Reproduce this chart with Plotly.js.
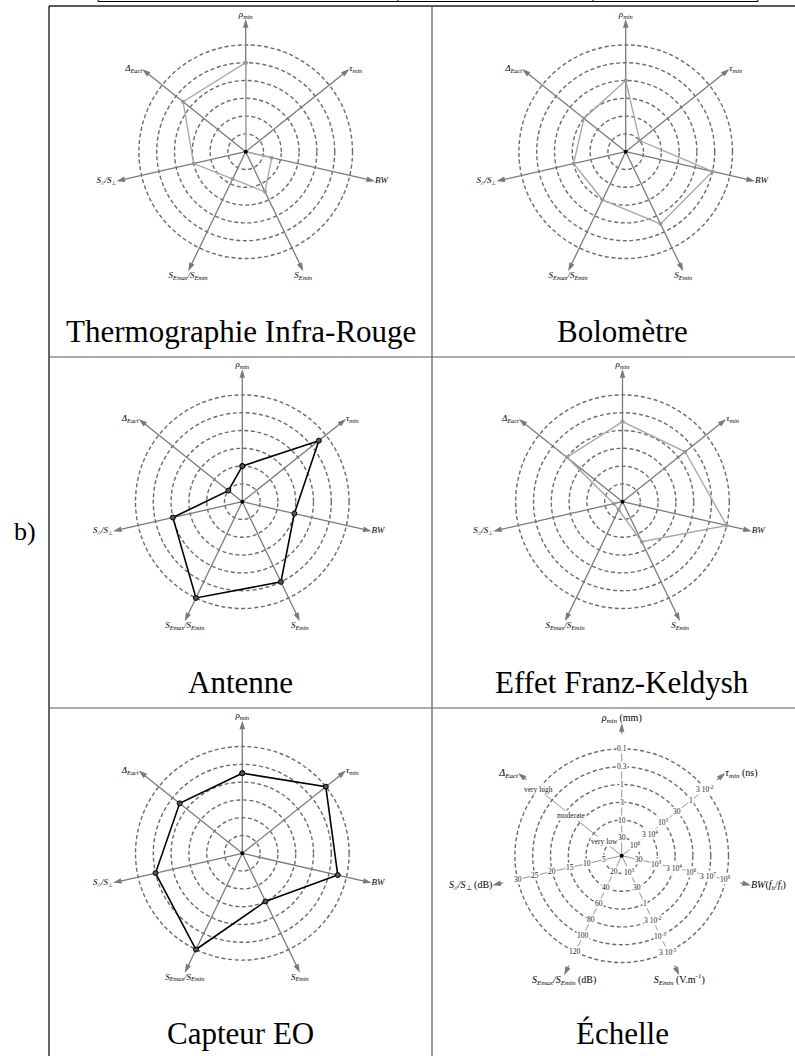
<!DOCTYPE html>
<html><head><meta charset="utf-8">
<script src="https://cdn.plot.ly/plotly-3.0.1.min.js"></script>
<style>body{margin:0;background:#fff}#chart{width:795px;height:1056px}</style>
</head><body><div id="chart"></div>
<script>
// ---------- data ----------
const axes = ['rho', 'tau', 'BW', 'SEmin', 'SEratio', 'Spar', 'Delta'];
const axisLabels = ['<i>ρ<sub>min</sub></i>', '<i>τ<sub>min</sub></i>', '<i>BW</i>', '<i>S<sub>Emin</sub></i>',
  '<i>S<sub>Emax</sub>/S<sub>Emin</sub></i>', '<i>S<sub>//</sub>/S</i><sub>⊥</sub>', '<i>Δ<sub>Eact</sub></i>'];
const scaleAxisLabels = ['<i>ρ<sub>min</sub></i> (mm)', '<i>τ<sub>min</sub></i> (ns)', '<i>BW</i>(<i>f<sub>h</sub></i>/<i>f<sub>l</sub></i>)',
  '<i>S<sub>Emin</sub></i> (V.m<sup>-1</sup>)', '<i>S<sub>Emax</sub>/S<sub>Emin</sub></i> (dB)', '<i>S<sub>//</sub>/S</i><sub>⊥</sub> (dB)', '<i>Δ<sub>Eact</sub></i>'];
const panelTitles = ['Thermographie Infra-Rouge', 'Bolomètre', 'Antenne', 'Effet Franz-Keldysh', 'Capteur EO', 'Échelle'];

const thermoIR     = [5.0, 0.0, 1.5, 2.5, 1.7, 3.0, 4.5];
const bolometre    = [4.0, 1.0, 5.0, 4.5, 3.0, 3.0, 3.0];
const antenne      = [2.0, 5.5, 3.0, 5.0, 6.0, 4.0, 1.0];
const franzKeldysh = [4.5, 4.5, 6.0, 2.5, 0.5, 0.5, 4.0];
const capteurEO    = [4.5, 6.0, 5.5, 3.0, 6.0, 5.0, 4.5];

const ringLevels = [1, 2, 3, 4, 5, 6];
const rhoTicks     = ['30', '10', '3', '1', '0.3', '0.1'];
const tauTicks     = ['10<sup>6</sup>', '3 10<sup>4</sup>', '10<sup>3</sup>', '30', '1', '3 10<sup>-2</sup>'];
const bwTicks      = ['30', '10<sup>3</sup>', '3 10<sup>4</sup>', '10<sup>6</sup>', '3 10<sup>7</sup>', '10<sup>9</sup>'];
const sEminTicks   = ['10<sup>3</sup>', '30', '1', '3 10<sup>-2</sup>', '10<sup>-3</sup>', '3 10<sup>-5</sup>'];
const sEratioTicks = ['20', '40', '60', '80', '100', '120'];
const sParTicks    = ['5', '10', '15', '20', '25', '30'];
const deltaTicks      = ['very low', 'moderate', 'very high'];
const deltaTickLevels = [1.25, 3.6, 6];

// ---------- layout helpers ----------
const W = 795, H = 1056, UNIT = 17.8, RMAX = 7.5;
const R = RMAX * UNIT;
const centers = [[245.7, 151.7], [625.7, 151.7], [242.3, 501.7], [622.5, 501.7], [242.3, 853.3], [621.7, 855.7]];
const panelData = [
  {v: thermoIR, dark: false}, {v: bolometre, dark: false}, {v: antenne, dark: true},
  {v: franzKeldysh, dark: false}, {v: capteurEO, dark: true}, null
];
const SERIF = '"Liberation Serif", "Times New Roman", serif';
const GREY = '#7a7a7a';
const textPos = ['top center', 'middle right', 'middle right', 'bottom center', 'bottom center', 'middle left', 'middle left'];
const arrowAngles = axes.map((_, i) => i * 360 / axes.length);

function dom(c) {
  return {x: [(c[0] - R) / W, (c[0] + R) / W], y: [1 - (c[1] + R) / H, 1 - (c[1] - R) / H]};
}

const traces = [];
const layout = {
  width: W, height: H, margin: {l: 0, r: 0, t: 0, b: 0},
  font: {family: SERIF, color: '#000'},
  paper_bgcolor: '#fff', plot_bgcolor: 'rgba(0,0,0,0)', showlegend: false,
  annotations: [], shapes: []
};

centers.forEach((c, k) => {
  const pid = k === 0 ? 'polar' : 'polar' + (k + 1);
  const isScale = k === 5;
  layout[pid] = {
    domain: dom(c), bgcolor: 'rgba(0,0,0,0)',
    radialaxis: {range: [0, RMAX], tickvals: ringLevels, showticklabels: false, ticks: '', showline: false,
      gridcolor: '#6b6b6b', gridwidth: 1.4, griddash: '4px,2.6px'},
    angularaxis: {type: 'category', categoryarray: axes, rotation: 90, direction: 'clockwise',
      showgrid: false, showline: false, showticklabels: false, ticks: ''}
  };
  // spokes
  const sr = [], st = [];
  axes.forEach(a => { sr.push(0, isScale ? 6 : 7.2, null); st.push(a, a, a); });
  traces.push({type: 'scatterpolar', subplot: pid, r: sr, theta: st, mode: 'lines', connectgaps: false,
    line: {color: GREY, width: isScale ? 0.8 : 1.3}, hoverinfo: 'skip'});
  if (isScale) {
    const ar = [], at = [];
    axes.forEach(a => { ar.push(6.85, 7.3, null); at.push(a, a, a); });
    traces.push({type: 'scatterpolar', subplot: pid, r: ar, theta: at, mode: 'lines', connectgaps: false,
      line: {color: GREY, width: 1.3}, hoverinfo: 'skip'});
  }
  // arrowheads
  traces.push({type: 'scatterpolar', subplot: pid, r: axes.map(() => 7.45), theta: axes, mode: 'markers',
    marker: {symbol: 'arrow', size: 9, angle: arrowAngles, color: GREY, line: {width: 0}}, hoverinfo: 'skip'});
  // data polygon
  const pd = panelData[k];
  if (pd) {
    traces.push({type: 'scatterpolar', subplot: pid, r: pd.v.concat([pd.v[0]]), theta: axes.concat([axes[0]]),
      mode: 'lines+markers',
      line: {color: pd.dark ? '#000' : '#a8a8a8', width: pd.dark ? 1.6 : 1.4},
      marker: pd.dark ? {size: 5, color: '#555', line: {color: '#000', width: 1}} : {size: 4, color: '#999'},
      hoverinfo: 'skip'});
  }
  // centre dot
  traces.push({type: 'scatterpolar', subplot: pid, r: [0], theta: [axes[0]], mode: 'markers',
    marker: {size: 4, color: '#000'}, hoverinfo: 'skip'});
  // axis labels
  traces.push({type: 'scatterpolar', subplot: pid, r: axes.map(() => 7.45), theta: axes, mode: 'text',
    text: isScale ? scaleAxisLabels : axisLabels, textposition: textPos,
    textfont: {family: SERIF, size: isScale ? 10 : 9, color: '#000'}, hoverinfo: 'skip'});
  // captions
  const cellCx = c[0] < 432 ? 240.5 : 622;
  const rowTop = [6, 357, 708][Math.floor(k / 2)];
  layout.annotations.push({xref: 'paper', yref: 'paper', x: cellCx / W, y: 1 - (rowTop + 325) / H,
    xanchor: 'center', yanchor: 'middle', showarrow: false, text: panelTitles[k],
    font: {family: SERIF, size: 31, color: '#000'}});
});

// scale panel tick labels through a matching cartesian overlay
const sc = centers[5];
const sd = dom(sc);
layout.xaxis = {domain: sd.x, range: [-RMAX, RMAX], visible: false, fixedrange: true};
layout.yaxis = {domain: sd.y, range: [-RMAX, RMAX], visible: false, fixedrange: true};
traces.push({type: 'scatter', x: [0], y: [0], mode: 'markers', marker: {opacity: 0}, hoverinfo: 'skip'});
const tickSets = [rhoTicks, tauTicks, bwTicks, sEminTicks, sEratioTicks, sParTicks];
function ang(i) { return (90 - i * 360 / axes.length) * Math.PI / 180; }
tickSets.forEach((ts, i) => {
  ts.forEach((t, j) => {
    const r = ringLevels[j];
    layout.annotations.push({xref: 'x', yref: 'y', x: r * Math.cos(ang(i)), y: r * Math.sin(ang(i)),
      xanchor: 'center', yanchor: 'middle',
      text: t, showarrow: false, bgcolor: '#fff', borderpad: 0,
      font: {family: SERIF, size: 7.5, color: '#222'}});
  });
});
deltaTicks.forEach((t, j) => {
  const r = deltaTickLevels[j], i = 6;
  layout.annotations.push({xref: 'x', yref: 'y', x: r * Math.cos(ang(i)), y: r * Math.sin(ang(i)),
    xanchor: 'center', yanchor: 'middle',
    text: t, showarrow: false, bgcolor: '#fff', borderpad: 0,
    font: {family: SERIF, size: 7.5, color: '#222'}});
});

// "b)" label
layout.annotations.push({xref: 'paper', yref: 'paper', x: 25 / W, y: 1 - 531 / H, xanchor: 'center', yanchor: 'middle',
  showarrow: false, text: 'b)', font: {family: SERIF, size: 26, color: '#000'}});

// table rules
function hline(y, x0, x1, color, w) {
  layout.shapes.push({type: 'line', xref: 'paper', yref: 'paper', x0: x0 / W, x1: x1 / W, y0: 1 - y / H, y1: 1 - y / H,
    line: {color: color, width: w}});
}
function vline(x, y0, y1, color, w) {
  layout.shapes.push({type: 'line', xref: 'paper', yref: 'paper', x0: x / W, x1: x / W, y0: 1 - y0 / H, y1: 1 - y1 / H,
    line: {color: color, width: w}});
}
hline(1.5, 98, 758, '#000', 1);
[98, 398, 593, 758].forEach(x => vline(x, 0, 1.5, '#000', 1));
hline(6, 49, 795, '#5a5a5a', 2.2);
vline(49, 6, 1056, '#111', 1.3);
vline(432, 6, 1056, '#5a5a5a', 1.2);
hline(357, 49, 795, '#5a5a5a', 1.2);
hline(708, 49, 795, '#5a5a5a', 1.2);

Plotly.newPlot('chart', traces, layout, {staticPlot: true});
</script></body></html>
